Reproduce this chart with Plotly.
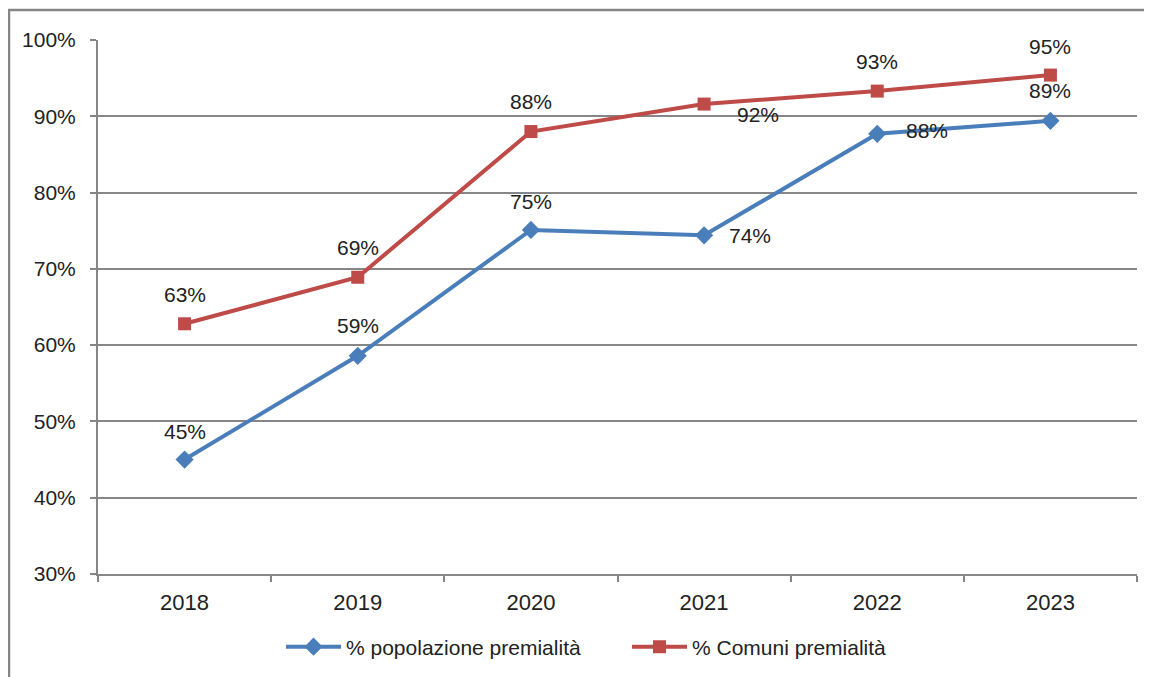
import plotly.graph_objects as go

years = ["2018", "2019", "2020", "2021", "2022", "2023"]
popolazione = [0.450, 0.586, 0.751, 0.744, 0.877, 0.894]
comuni = [0.628, 0.689, 0.880, 0.916, 0.933, 0.954]
series_names = ["% popolazione premialità", "% Comuni premialità"]

BLUE = "#4A7EBB"
RED = "#BE4B48"
GRID = "#868686"
TXT = "#222222"
FONT = "Liberation Sans, Arial, sans-serif"

# label offsets (pixels) relative to each point
blue_off = [(0, 28), (0, 30), (0, 28), (46, 0), (50, 3), (0, 30)]
red_off = [(0, 29), (0, 30), (0, 30), (54, -10), (0, 30), (0, 29)]

# page is drawn with an 8px offset; plot area on screen: x 98..1137, y 40..574
L, T, R, B = 90, 32, 23, 111
W, H = 1152, 677
PW, PH = W - L - R, H - T - B

fig = go.Figure()
fig.add_trace(go.Scatter(
    x=years, y=popolazione, name=series_names[0], mode="lines+markers",
    line=dict(color=BLUE, width=4),
    marker=dict(symbol="diamond", size=14, color=BLUE),
))
fig.add_trace(go.Scatter(
    x=years, y=comuni, name=series_names[1], mode="lines+markers",
    line=dict(color=RED, width=4),
    marker=dict(symbol="square", size=13, color=RED),
))

ann = []
for vals, offs in ((popolazione, blue_off), (comuni, red_off)):
    for i, (v, (dx, dy)) in enumerate(zip(vals, offs)):
        ann.append(dict(x=i, y=v, xref="x", yref="y",
                        text=f"{round(v*100):d}%", showarrow=False,
                        xshift=dx, yshift=dy, xanchor="center", yanchor="middle",
                        font=dict(size=21, color=TXT, family=FONT)))

fig.update_layout(
    width=W, height=H,
    margin=dict(l=L, r=R, t=T, b=B),
    paper_bgcolor="white", plot_bgcolor="white",
    font=dict(family=FONT, size=21, color=TXT),
    showlegend=True,
    legend=dict(orientation="h", x=(273 - L) / PW, xanchor="left",
                y=(H - B - 639) / PH, yanchor="middle",
                font=dict(size=21, color=TXT, family=FONT),
                itemwidth=55, entrywidth=276, tracegroupgap=0),
    annotations=ann,
    shapes=[dict(type="rect", xref="paper", yref="paper",
                 x0=(1 - L) / PW, x1=1.2, y0=-0.5, y1=(H - B - 2) / PH,
                 line=dict(color=GRID, width=2.5), fillcolor="rgba(0,0,0,0)",
                 layer="below")],
)
fig.update_xaxes(
    type="category", range=[-0.5, 5.5], tickson="boundaries",
    ticks="outside", ticklen=6, tickwidth=2, tickcolor=GRID,
    showline=True, linecolor=GRID, linewidth=2, showgrid=False,
    tickfont=dict(size=22, color=TXT), ticklabelstandoff=8,
    zeroline=False,
)
fig.update_yaxes(
    range=[0.3, 1.0], tickvals=[0.3, 0.4, 0.5, 0.6, 0.7, 0.8, 0.9, 1.0],
    tickformat=".0%", ticks="outside", ticklen=6, tickwidth=2, tickcolor=GRID,
    showline=True, linecolor=GRID, linewidth=2,
    showgrid=True, gridcolor=GRID, gridwidth=2,
    tickfont=dict(size=21, color=TXT), ticklabelstandoff=10,
    zeroline=False,
)

fig.write_html("out.html")
